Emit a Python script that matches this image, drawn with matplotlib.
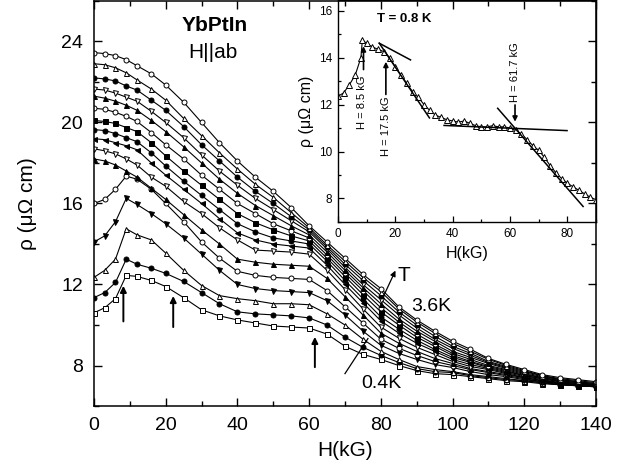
"""
YbPtIn, H||ab: magnetoresistance rho(H) at temperatures from 0.4 K to 3.6 K,
with an inset showing the T = 0.8 K curve and the tangent construction
used to pick out the critical fields.
"""
import matplotlib.pyplot as plt
from matplotlib.ticker import MultipleLocator

plt.rcParams['font.family'] = ['Liberation Sans', 'DejaVu Sans']

# field grid (kG) shared by the main-panel curves
H = [0, 3, 6, 9, 12, 16, 20, 25, 30, 35, 40, 45, 50, 55, 60, 65, 70,
     75, 80, 85, 90, 95, 100, 105, 110, 115, 120, 125, 130, 135, 140]

# rho (micro-ohm cm), bottom curve (0.4 K) to top curve (3.6 K)
rho_01 = [10.6, 10.85, 11.3, 12.45, 12.4, 12.2, 11.9, 11.35, 10.75, 10.45, 10.25, 10.1, 9.95, 9.9, 9.85, 9.55,
          8.95, 8.55, 8.3, 8.0, 7.75, 7.6, 7.55, 7.45, 7.35, 7.25, 7.2, 7.1, 7.05, 7.0, 6.95]
rho_02 = [11.35, 11.6, 12.1, 13.25, 13.0, 12.8, 12.55, 12.15, 11.6, 11.05, 10.65, 10.55, 10.5, 10.45, 10.35, 10.0,
          9.4, 8.9, 8.5, 8.15, 7.85, 7.7, 7.65, 7.5, 7.4, 7.3, 7.25, 7.15, 7.05, 7.0, 6.95]
rho_03 = [12.35, 12.7, 13.25, 14.75, 14.45, 14.2, 13.55, 12.7, 11.95, 11.45, 11.3, 11.2, 11.05, 11.05, 11.0, 10.55,
          10.0, 9.3, 8.7, 8.3, 7.95, 7.8, 7.7, 7.55, 7.45, 7.35, 7.25, 7.15, 7.05, 7.0, 6.95]
rho_04 = [14.1, 14.4, 15.1, 16.25, 15.95, 15.5, 15.0, 14.3, 13.5, 12.7, 12.0, 11.8, 11.7, 11.65, 11.6, 11.2,
          10.5, 9.7, 9.0, 8.6, 8.3, 8.05, 7.9, 7.7, 7.55, 7.45, 7.3, 7.2, 7.1, 7.0, 6.97]
rho_05 = [16.0, 16.2, 16.7, 17.35, 17.2, 16.7, 16.0, 15.1, 14.1, 13.3, 12.65, 12.45, 12.35, 12.3, 12.25, 11.7,
          10.9, 10.1, 9.3, 8.85, 8.5, 8.2, 8.0, 7.8, 7.65, 7.5, 7.35, 7.2, 7.1, 7.0, 6.98]
rho_06 = [18.2, 18.1, 17.9, 17.6, 17.3, 16.75, 16.2, 15.45, 14.7, 14.0, 13.25, 13.1, 13.0, 12.95, 12.9, 12.3,
          11.4, 10.5, 9.6, 9.1, 8.7, 8.35, 8.1, 7.85, 7.7, 7.55, 7.4, 7.25, 7.1, 7.05, 7.0]
rho_07 = [18.7, 18.6, 18.45, 18.2, 17.9, 17.3, 16.85, 16.1, 15.5, 14.8, 14.2, 13.7, 13.65, 13.6, 13.5, 12.7,
          11.75, 10.8, 9.9, 9.35, 8.9, 8.55, 8.2, 7.95, 7.8, 7.6, 7.4, 7.25, 7.15, 7.05, 7.0]
rho_08 = [19.2, 19.15, 19.0, 18.85, 18.65, 18.0, 17.4, 16.7, 16.0, 15.25, 14.55, 14.2, 14.0, 13.9, 13.8, 12.95,
          12.0, 11.1, 10.2, 9.6, 9.1, 8.7, 8.3, 8.05, 7.85, 7.65, 7.45, 7.3, 7.15, 7.05, 7.0]
rho_09 = [19.65, 19.6, 19.45, 19.25, 19.05, 18.5, 17.85, 17.1, 16.4, 15.7, 15.0, 14.6, 14.3, 14.15, 14.0, 13.15,
          12.2, 11.3, 10.4, 9.8, 9.25, 8.8, 8.4, 8.15, 7.9, 7.7, 7.5, 7.35, 7.2, 7.1, 7.0]
rho_10 = [20.1, 20.05, 19.95, 19.75, 19.55, 19.0, 18.35, 17.6, 16.9, 16.2, 15.5, 15.05, 14.7, 14.4, 14.15, 13.3,
          12.4, 11.5, 10.65, 10.0, 9.4, 8.95, 8.5, 8.2, 7.95, 7.75, 7.5, 7.35, 7.2, 7.1, 7.05]
rho_11 = [20.7, 20.65, 20.5, 20.3, 20.05, 19.5, 18.9, 18.2, 17.4, 16.7, 16.0, 15.5, 15.0, 14.65, 14.3, 13.45,
          12.55, 11.7, 10.85, 10.15, 9.55, 9.05, 8.6, 8.3, 8.0, 7.8, 7.55, 7.4, 7.25, 7.15, 7.05]
rho_12 = [21.3, 21.2, 21.05, 20.85, 20.6, 20.1, 19.55, 18.8, 18.0, 17.2, 16.5, 15.9, 15.4, 14.9, 14.45, 13.6,
          12.7, 11.85, 11.05, 10.3, 9.7, 9.2, 8.7, 8.4, 8.1, 7.85, 7.6, 7.4, 7.25, 7.15, 7.05]
rho_13 = [21.65, 21.6, 21.45, 21.25, 21.05, 20.55, 20.0, 19.25, 18.4, 17.6, 16.9, 16.25, 15.7, 15.15, 14.6, 13.75,
          12.85, 12.0, 11.25, 10.5, 9.85, 9.3, 8.85, 8.5, 8.15, 7.9, 7.65, 7.45, 7.3, 7.2, 7.1]
rho_14 = [22.2, 22.15, 22.05, 21.8, 21.6, 21.1, 20.6, 19.8, 18.9, 18.1, 17.3, 16.6, 16.0, 15.35, 14.7, 13.85,
          13.0, 12.2, 11.45, 10.65, 10.0, 9.45, 8.95, 8.6, 8.2, 7.95, 7.7, 7.5, 7.3, 7.2, 7.1]
rho_15 = [22.9, 22.85, 22.7, 22.45, 22.1, 21.65, 21.1, 20.2, 19.35, 18.5, 17.7, 16.95, 16.3, 15.55, 14.8, 13.95,
          13.15, 12.35, 11.65, 10.8, 10.15, 9.6, 9.1, 8.7, 8.3, 8.0, 7.75, 7.5, 7.35, 7.25, 7.15]
rho_16 = [23.45, 23.4, 23.3, 23.1, 22.8, 22.4, 21.85, 21.0, 20.0, 19.0, 18.1, 17.3, 16.6, 15.8, 14.9, 14.1,
          13.3, 12.5, 11.8, 10.9, 10.25, 9.7, 9.2, 8.8, 8.35, 8.05, 7.8, 7.55, 7.4, 7.3, 7.2]

curves = [rho_01, rho_02, rho_03, rho_04, rho_05, rho_06, rho_07, rho_08,
          rho_09, rho_10, rho_11, rho_12, rho_13, rho_14, rho_15, rho_16]
# (marker, filled) for each curve, same order
styles = [("s", False), ("o", True), ("^", False), ("v", True),
          ("o", False), ("^", True), ("v", False), ("<", True),
          ("o", True), ("s", True), ("o", False), ("^", True),
          ("v", False), ("o", True), ("^", False), ("o", False)]

# fields marked with arrows in the main panel (kG)
arrow_H = [8.2, 22.1, 61.6]

# inset: T = 0.8 K
inset_H = [0, 2, 4, 6, 8, 8.5, 10, 12, 14, 16, 18, 20, 22, 24, 26, 28, 30, 32, 34, 36, 38, 40, 42, 44,
           46, 48, 50, 52, 54, 56, 58, 60, 62, 64, 66, 68, 70, 72, 74, 76, 78, 80, 82, 84, 86, 88, 90]
inset_rho = [12.35, 12.5, 12.85, 13.25, 14.0, 14.75, 14.6, 14.45, 14.35, 14.25, 14.0, 13.6, 13.25, 12.9,
             12.55, 12.3, 12.0, 11.75, 11.55, 11.45, 11.35, 11.3, 11.25, 11.3, 11.2, 11.1, 11.05, 11.05,
             11.1, 11.05, 11.05, 11.0, 10.9, 10.75, 10.5, 10.25, 10.05, 9.75, 9.4, 9.1, 8.85, 8.65, 8.5,
             8.35, 8.2, 8.05, 7.95]
# tangent lines in the inset: (H0, rho0, H1, rho1)
tangents = [(14.4, 14.61, 25.3, 13.9),
            (14.4, 14.61, 31.9, 11.43),
            (37.0, 11.11, 79.9, 10.89),
            (55.7, 11.84, 85.5, 7.66)]
crit_H = [8.5, 17.5, 61.7]


def main():
    fig = plt.figure(figsize=(6.41, 4.69), dpi=100)
    ax = fig.add_axes([0.1466, 0.1343, 0.7832, 0.8637])

    for rho, (mk, filled) in zip(curves, styles):
        ax.plot(H, rho, color="black", lw=0.8, marker=mk, ms=3.6, mew=0.7,
                mfc="black" if filled else "white", mec="black")

    ax.set_xlim(0, 140)
    ax.set_ylim(6, 26)
    ax.xaxis.set_major_locator(MultipleLocator(20))
    ax.xaxis.set_minor_locator(MultipleLocator(10))
    ax.yaxis.set_major_locator(MultipleLocator(4))
    ax.yaxis.set_minor_locator(MultipleLocator(2))
    ax.set_yticks([8, 12, 16, 20, 24])
    ax.tick_params(which="both", direction="in", top=True, right=True, width=1.0)
    ax.tick_params(which="major", length=6, labelsize=14)
    ax.tick_params(which="minor", length=3.5)
    ax.tick_params(axis="y", pad=8)
    ax.tick_params(axis="x", pad=8)
    for sp in ax.spines.values():
        sp.set_linewidth(1.1)
    ax.set_xlabel("H(kG)", fontsize=15, labelpad=5)
    ax.set_ylabel("ρ (μΩ cm)", fontsize=15, labelpad=17)

    ax.text(33.7, 24.78, "YbPtIn", fontsize=15, fontweight="bold", ha="center", va="center")
    ax.text(33.2, 23.44, "H||ab", fontsize=15, ha="center", va="center")

    arrow_bottom = [10.04, 9.76, 7.78]
    arrow_top = [12.07, 11.57, 9.55]
    for h, y0, y1 in zip(arrow_H, arrow_bottom, arrow_top):
        ax.annotate("", xy=(h, y1), xytext=(h, y0),
                    arrowprops=dict(arrowstyle="-|>", color="black", lw=1.4, mutation_scale=9))

    ax.annotate("", xy=(84.4, 12.81), xytext=(80.5, 11.33),
                arrowprops=dict(arrowstyle="-|>", color="black", lw=0.9, mutation_scale=8))
    ax.text(86.4, 12.43, "T", fontsize=15, ha="center", va="center")
    ax.text(94.2, 10.89, "3.6K", fontsize=14, ha="center", va="center")
    ax.plot([70.0, 76.4], [7.6, 9.33], color="black", lw=0.9)
    ax.text(80.2, 7.12, "0.4K", fontsize=14, ha="center", va="center")

    # inset
    ins = fig.add_axes([0.5273, 0.5267, 0.4025, 0.4733])
    ins.patch.set_alpha(0)
    ins.plot(inset_H, inset_rho, color="black", lw=0.8, marker="^", ms=5, mew=0.7,
             mfc="white", mec="black")
    for h0, r0, h1, r1 in tangents:
        ins.plot([h0, h1], [r0, r1], color="black", lw=1.1)

    ins.set_xlim(0, 90)
    ins.set_ylim(7, 16.45)
    ins.xaxis.set_major_locator(MultipleLocator(20))
    ins.xaxis.set_minor_locator(MultipleLocator(10))
    ins.yaxis.set_major_locator(MultipleLocator(2))
    ins.yaxis.set_minor_locator(MultipleLocator(1))
    ins.tick_params(which="both", direction="in", width=0.9, labelsize=8.5, pad=4)
    ins.tick_params(which="major", length=4)
    ins.tick_params(which="minor", length=2.5)
    for sp in ins.spines.values():
        sp.set_linewidth(1.0)
    ins.set_xlabel("H(kG)", fontsize=11.5, labelpad=5)
    ins.set_ylabel("ρ (μΩ cm)", fontsize=11.5, labelpad=4)
    ins.text(23.2, 15.66, "T = 0.8 K", fontsize=9.5, fontweight="bold", ha="center", va="center")

    # critical-field arrows and their labels
    ins.annotate("", xy=(8.9, 14.6), xytext=(8.9, 13.37),
                 arrowprops=dict(arrowstyle="-|>", color="black", lw=1.2, mutation_scale=7))
    ins.annotate("", xy=(16.7, 13.94), xytext=(16.7, 12.31),
                 arrowprops=dict(arrowstyle="-|>", color="black", lw=1.2, mutation_scale=7))
    ins.annotate("", xy=(61.75, 11.15), xytext=(61.75, 12.1),
                 arrowprops=dict(arrowstyle="-|>", color="black", lw=1.2, mutation_scale=7))
    label_pos = [(8.3, 12.1), (16.7, 11.08), (61.75, 13.4)]
    for hc, (tx, ty) in zip(crit_H, label_pos):
        ins.text(tx, ty, f"H = {hc} kG", fontsize=8, rotation=90, ha="center", va="center")

    fig.savefig("out.png", dpi=100)
    plt.close(fig)


if __name__ == "__main__":
    main()
